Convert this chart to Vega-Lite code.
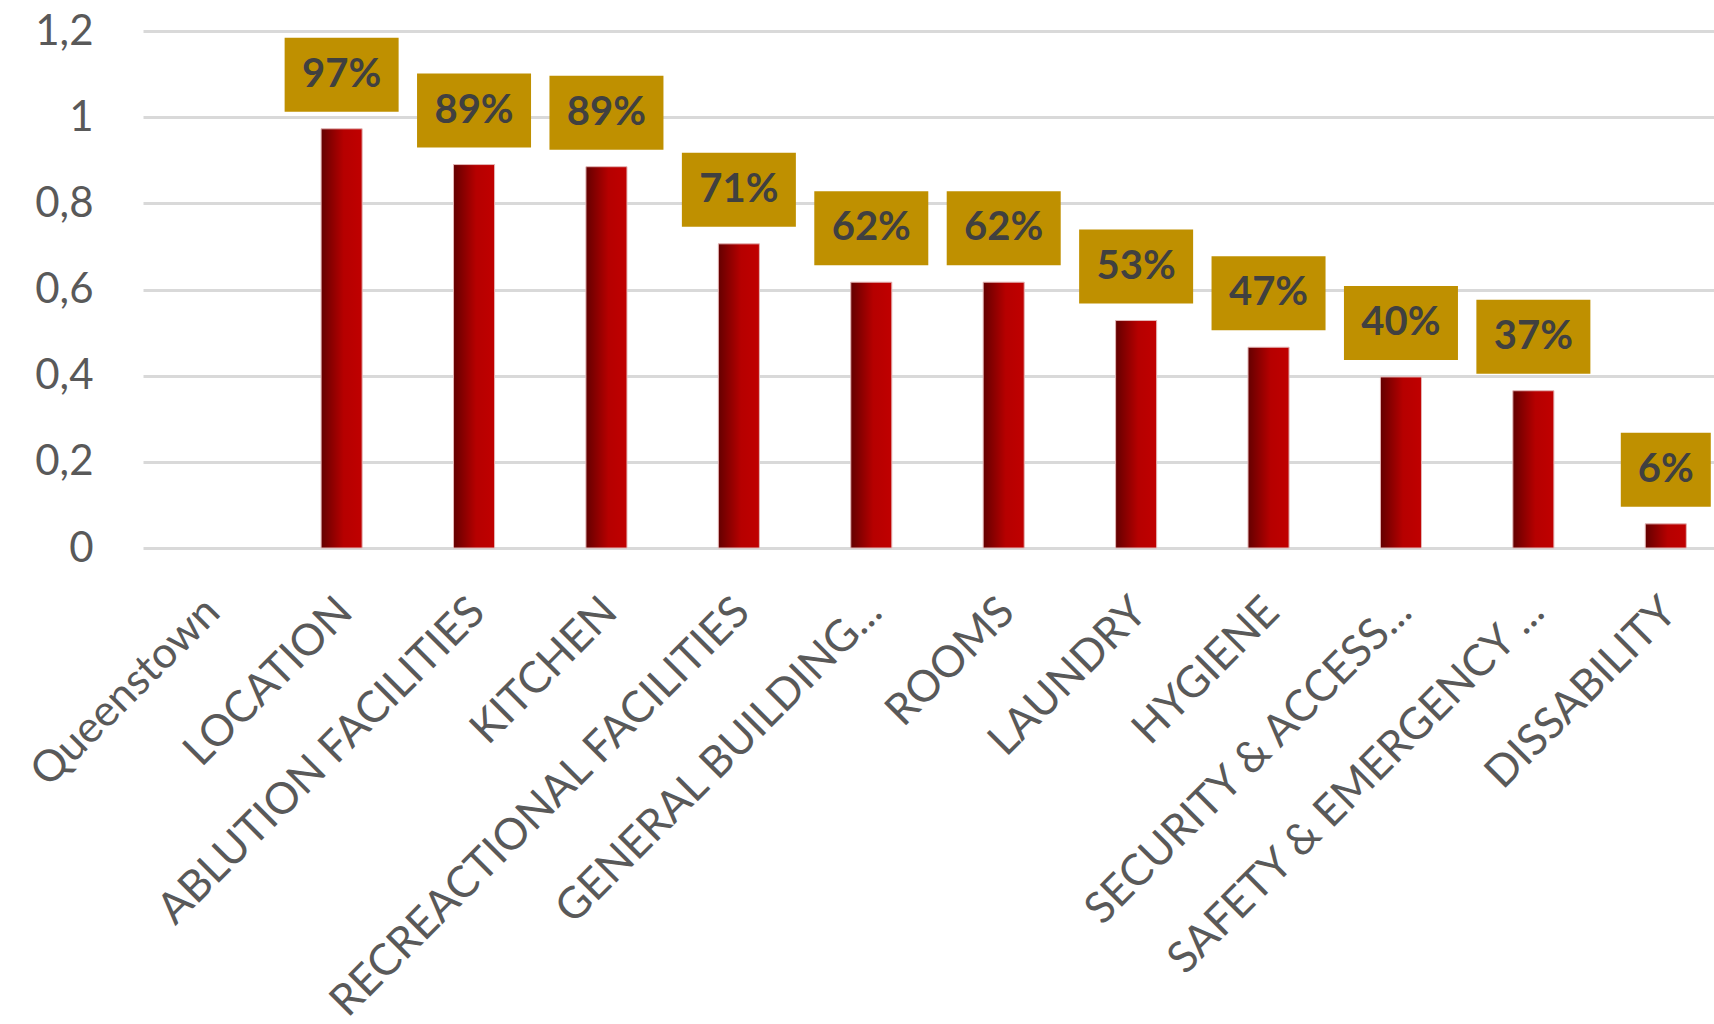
{
  "$schema": "https://vega.github.io/schema/vega-lite/v6.json",
  "width": 1571,
  "height": 517,
  "autosize": {"type": "none"},
  "padding": {"left": 143, "top": 31, "right": 0, "bottom": 476},
  "background": "white",
  "config": {"view": {"stroke": null}},
  "data": {
    "values": [
      {"category": "Queenstown", "value": null},
      {"category": "LOCATION", "value": 0.973},
      {"category": "ABLUTION FACILITIES", "value": 0.89},
      {"category": "KITCHEN", "value": 0.885},
      {"category": "RECREACTIONAL FACILITIES", "value": 0.706},
      {"category": "GENERAL BUILDING...", "value": 0.617},
      {"category": "ROOMS", "value": 0.617},
      {"category": "LAUNDRY", "value": 0.528},
      {"category": "HYGIENE", "value": 0.466},
      {"category": "SECURITY & ACCESS...", "value": 0.397},
      {"category": "SAFETY & EMERGENCY ...", "value": 0.365},
      {"category": "DISSABILITY", "value": 0.056}
    ]
  },
  "encoding": {
    "x": {
      "field": "category",
      "type": "nominal",
      "sort": null,
      "scale": {
        "domain": ["Queenstown", "LOCATION", "ABLUTION FACILITIES", "KITCHEN", "RECREACTIONAL FACILITIES", "GENERAL BUILDING...", "ROOMS", "LAUNDRY", "HYGIENE", "SECURITY & ACCESS...", "SAFETY & EMERGENCY ...", "DISSABILITY"],
        "paddingInner": 0,
        "paddingOuter": 0,
        "rangeMax": 1589
      },
      "axis": {
        "title": null,
        "labelAngle": -45,
        "labelFont": "Lato",
        "labelFontSize": 43.5,
        "labelColor": "#595959",
        "labelPadding": 42,
        "labelOffset": -11,
        "domain": false,
        "ticks": false,
        "grid": false,
        "labelLimit": 0,
        "labelOverlap": false
      }
    },
    "y": {
      "field": "value",
      "type": "quantitative",
      "scale": {"domain": [0, 1.2], "nice": false, "zero": true},
      "axis": {
        "title": null,
        "values": [0, 0.2, 0.4, 0.6, 0.8, 1, 1.2],
        "labelExpr": "replace(format(datum.value, '.1~f'), '.', ',')",
        "labelFont": "Lato",
        "labelFontSize": 42,
        "labelColor": "#595959",
        "labelPadding": 50,
        "domain": false,
        "ticks": false,
        "grid": true,
        "gridColor": "#D9D9D9",
        "gridWidth": 3
      }
    }
  },
  "layer": [
    {
      "mark": {
        "type": "bar",
        "width": {"band": 0.31},
        "fill": {
          "gradient": "linear",
          "x1": 0, "y1": 0, "x2": 1, "y2": 0,
          "stops": [
            {"offset": 0, "color": "#640000"},
            {"offset": 0.55, "color": "#B60000"},
            {"offset": 1, "color": "#C00000"}
          ]
        },
        "stroke": "#E3B5B5",
        "strokeWidth": 1
      }
    },
    {
      "mark": {
        "type": "bar",
        "color": "#BF9000",
        "yOffset": -17,
        "y2Offset": -91
      },
      "encoding": {
        "y2": {"field": "value"},
        "size": {"condition": {"test": "datum.value < 0.1", "value": 90}, "value": 114}
      }
    },
    {
      "mark": {
        "type": "text",
        "font": "Lato",
        "fontSize": 40,
        "fontWeight": "bold",
        "color": "#404040",
        "baseline": "middle",
        "align": "center",
        "yOffset": -54
      },
      "encoding": {
        "text": {"field": "value", "type": "quantitative", "format": ".0%"}
      }
    }
  ]
}
